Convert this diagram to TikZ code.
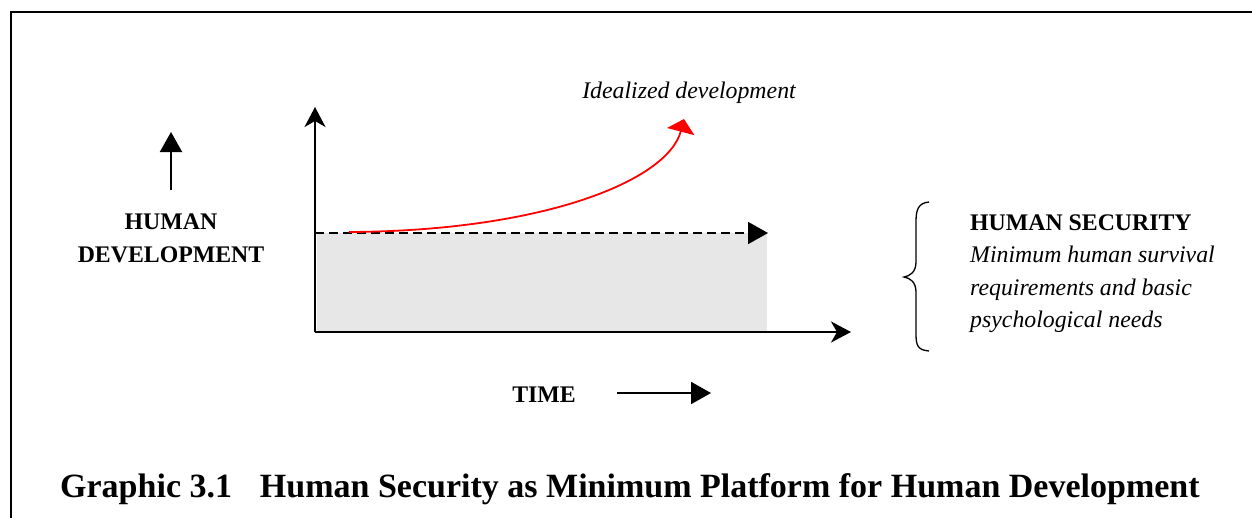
\documentclass[tikz,border=0pt]{standalone}
\usepackage{fontspec}
\setmainfont{Liberation Serif}
\usetikzlibrary{arrows.meta}
\definecolor{fillgray}{RGB}{231,231,231}
\definecolor{curvered}{RGB}{255,0,0}
\begin{document}
\begin{tikzpicture}[x=1pt,y=-1pt,
  txt/.style={font=\fontsize{23.8}{32.5}\selectfont, inner sep=0pt},
  axis/.style={line width=2pt, -{Stealth[length=20pt,width=21pt,inset=6pt]}},
  tri/.style={line width=2pt, -{Triangle[length=20pt,width=22pt]}},
  frame/.style={line width=2pt},
  brace/.style={line width=1.3pt}]
\useasboundingbox (0,0) rectangle (1252,517);
% frame
\draw[frame] (11,518) -- (11,12) -- (1253,12);
% gray platform
\fill[fillgray] (317,233) rectangle (767,331);
% axes
\coordinate (o) at (315,332);
\coordinate (ytop) at (315,107);
\coordinate (xend) at (851,332);
\draw[axis] (o) -- (ytop);
\draw[axis] (o) -- (xend);
% dashed security level
\coordinate (ds) at (315,233);
\coordinate (de) at (768,233);
\draw[line width=1.8pt, dash pattern=on 9pt off 5pt, -{Triangle[length=20pt,width=22pt]}] (ds) -- (de);
% red curve
\coordinate (rs) at (349,232);
\coordinate (re) at (684,119);
\draw[curvered, line width=1.8pt, -{Triangle[length=13pt,width=28pt]}]
  (rs) .. controls (545,231) and (668,180) .. (re);
\node[txt, anchor=base, font=\fontsize{23.8}{32.5}\selectfont\itshape] (ideal) at (689,98) {Idealized development};
% human development
\coordinate (hds) at (171,190);
\coordinate (hde) at (171,132);
\draw[tri] (hds) -- (hde);
\node[txt, anchor=base, align=center, font=\fontsize{23.8}{32.5}\selectfont\bfseries] (hd) at (171,262) {HUMAN\\DEVELOPMENT};
% time
\node[txt, anchor=base, font=\fontsize{23.8}{32.5}\selectfont\bfseries] (time) at (544,402) {TIME};
\coordinate (ts) at (617,393);
\coordinate (te) at (711,393);
\draw[tri] (ts) -- (te);
% brace
\draw[brace] (929,202) .. controls (918,203) and (916,210) .. (916,222)
  -- (916,262) .. controls (916,272) and (910,276) .. (904,277)
  .. controls (910,278) and (916,282) .. (916,292)
  -- (916,334) .. controls (916,346) and (918,350) .. (929,351);
\node[txt, anchor=base west, align=left] (hs) at (970,327.5)
  {\textbf{HUMAN SECURITY}\\\textit{Minimum human survival}\\\textit{requirements and basic}\\\textit{psychological needs}};
% caption
\node[inner sep=0pt, anchor=base west, font=\fontsize{34}{40}\selectfont\bfseries] (cap) at (60,497)
  {Graphic 3.1\hspace{0.57em} Human Security as Minimum Platform for Human Development};
\end{tikzpicture}
\end{document}
